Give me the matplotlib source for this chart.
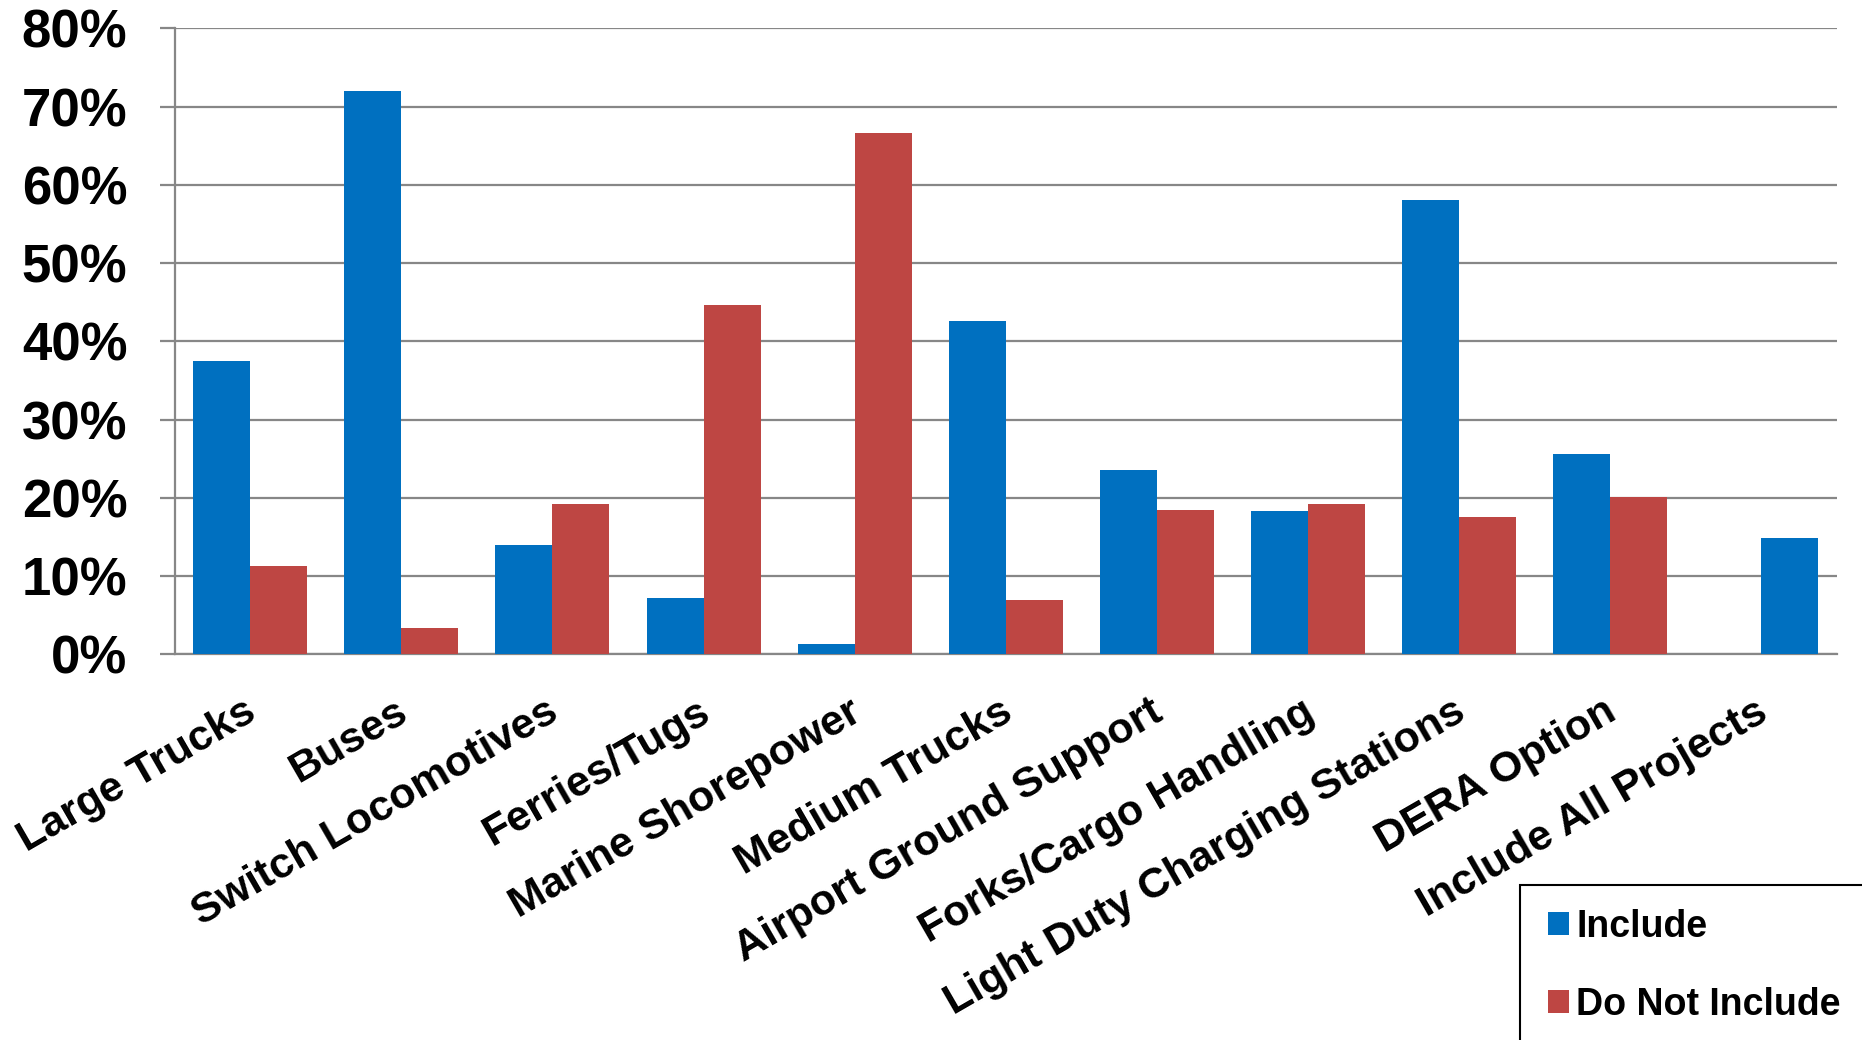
import matplotlib
matplotlib.use("Agg")
import matplotlib.pyplot as plt
import matplotlib.transforms as mtransforms
from matplotlib.patches import Rectangle
from matplotlib.ticker import PercentFormatter
import numpy as np

categories = ["Large Trucks", "Buses", "Switch Locomotives", "Ferries/Tugs",
              "Marine Shorepower", "Medium Trucks", "Airport Ground Support",
              "Forks/Cargo Handling", "Light Duty Charging Stations",
              "DERA Option", "Include All Projects"]
include = [37.5, 72.0, 13.9, 7.2, 1.3, 42.6, 23.5, 18.3, 58.1, 25.6, 14.8]
not_include = [11.3, 3.4, 19.2, 44.7, 66.6, 6.9, 18.4, 19.2, 17.5, 20.1, 0]

plt.rcParams["font.family"] = ["Liberation Sans", "DejaVu Sans"]
plt.rcParams["font.weight"] = "bold"

fig = plt.figure(figsize=(18.62, 10.4), dpi=100)
ax = fig.add_axes([0.0938, 0.371, 0.8928, 0.6016])

x = np.arange(len(categories))
w = 0.377
bars_inc = ax.bar(x - w / 2, include, w, color="#0070C0", label="Include", zorder=3)
ax.bar(x + w / 2, not_include, w, color="#BE4643", label="Do Not Include", zorder=3)
# in the original the lone "Include All Projects" bar sits in the right slot
last = bars_inc[-1]
last.set_x(last.get_x() + w)

ax.set_xlim(-0.5, len(categories) - 0.5)
ax.set_ylim(0, 80)
ax.set_yticks(np.arange(0, 81, 10))
ax.yaxis.set_major_formatter(PercentFormatter(decimals=0))
ax.grid(axis="y", color="#878787", linewidth=1.6, zorder=0)

for side in ["top", "right"]:
    ax.spines[side].set_visible(False)
for side in ["left", "bottom"]:
    ax.spines[side].set_color("#878787")
    ax.spines[side].set_linewidth(1.6)

ax.tick_params(axis="y", length=11, width=1.6, color="#878787", pad=23, labelsize=38)
ax.tick_params(axis="x", length=0, pad=27)
ax.set_xticks(x)
ax.set_xticklabels(categories, rotation=30, ha="right", va="top",
                   rotation_mode="anchor", fontsize=31)
shift = mtransforms.ScaledTranslation(-7 / 100, 0, fig.dpi_scale_trans)
for lbl in ax.get_xticklabels():
    lbl.set_transform(lbl.get_transform() + shift)
for lbl in ax.get_yticklabels():
    lbl.set_fontweight("bold")

# legend box running off the corner of the figure
fig.patches.append(Rectangle((1520 / 1862, -0.05), 0.3, 0.05 + 155 / 1040,
                             transform=fig.transFigure, facecolor="white",
                             edgecolor="black", linewidth=1.5, zorder=5))
fig.legend(loc="upper left", bbox_to_anchor=(1548 / 1862, 0.1264),
           frameon=False, handlelength=0.55, handleheight=0.55,
           handletextpad=0.2, labelspacing=1.12, borderpad=0, borderaxespad=0,
           prop={"weight": "bold", "size": 27})

fig.savefig("out.png", dpi=100)
